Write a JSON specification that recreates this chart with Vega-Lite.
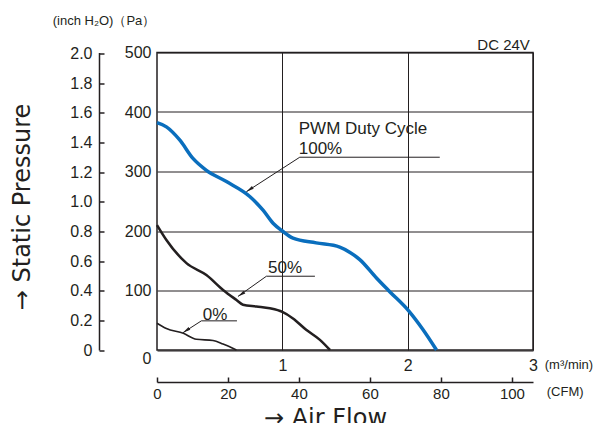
{
  "$schema": "https://vega.github.io/schema/vega-lite/v6.json",
  "width": 376,
  "height": 297.5,
  "autosize": "none",
  "padding": {"left": 157, "top": 52.5, "right": 67, "bottom": 73},
  "config": {
    "font": "Liberation Sans",
    "view": {"stroke": "#231f20", "strokeWidth": 1.5},
    "axis": {"labelColor": "#231f20", "titleColor": "#231f20", "labelFont": "Liberation Sans", "titleFont": "DejaVu Sans"}
  },
  "datasets": {
    "curves": [
      {"series": "100%", "flow": 0, "pa": 382},
      {"series": "100%", "flow": 0.075, "pa": 375},
      {"series": "100%", "flow": 0.181, "pa": 353},
      {"series": "100%", "flow": 0.287, "pa": 322},
      {"series": "100%", "flow": 0.394, "pa": 302},
      {"series": "100%", "flow": 0.554, "pa": 283},
      {"series": "100%", "flow": 0.74, "pa": 258},
      {"series": "100%", "flow": 0.846, "pa": 235},
      {"series": "100%", "flow": 0.926, "pa": 213},
      {"series": "100%", "flow": 1.0, "pa": 200},
      {"series": "100%", "flow": 1.085, "pa": 188},
      {"series": "100%", "flow": 1.27, "pa": 180},
      {"series": "100%", "flow": 1.458, "pa": 173},
      {"series": "100%", "flow": 1.54, "pa": 164},
      {"series": "100%", "flow": 1.618, "pa": 152},
      {"series": "100%", "flow": 1.751, "pa": 121},
      {"series": "100%", "flow": 1.857, "pa": 98},
      {"series": "100%", "flow": 2.003, "pa": 67},
      {"series": "100%", "flow": 2.123, "pa": 34},
      {"series": "100%", "flow": 2.23, "pa": 0},
      {"series": "50%", "flow": 0, "pa": 210},
      {"series": "50%", "flow": 0.075, "pa": 185},
      {"series": "50%", "flow": 0.235, "pa": 146},
      {"series": "50%", "flow": 0.394, "pa": 126},
      {"series": "50%", "flow": 0.527, "pa": 101},
      {"series": "50%", "flow": 0.634, "pa": 84},
      {"series": "50%", "flow": 0.686, "pa": 76},
      {"series": "50%", "flow": 0.793, "pa": 73},
      {"series": "50%", "flow": 0.9, "pa": 70},
      {"series": "50%", "flow": 1.0, "pa": 64},
      {"series": "50%", "flow": 1.085, "pa": 53},
      {"series": "50%", "flow": 1.19, "pa": 34},
      {"series": "50%", "flow": 1.3, "pa": 17},
      {"series": "50%", "flow": 1.38, "pa": 0},
      {"series": "0%", "flow": 0, "pa": 45},
      {"series": "0%", "flow": 0.075, "pa": 36},
      {"series": "0%", "flow": 0.21, "pa": 28},
      {"series": "0%", "flow": 0.314, "pa": 18},
      {"series": "0%", "flow": 0.447, "pa": 16},
      {"series": "0%", "flow": 0.527, "pa": 10},
      {"series": "0%", "flow": 0.634, "pa": 0}
    ],
    "leaders": [
      {"ann": "100%", "ord": 0, "flow": 0.713, "pa": 266},
      {"ann": "100%", "ord": 1, "flow": 1.139, "pa": 324},
      {"ann": "100%", "ord": 2, "flow": 2.256, "pa": 324},
      {"ann": "50%", "ord": 0, "flow": 0.646, "pa": 90},
      {"ann": "50%", "ord": 1, "flow": 0.873, "pa": 124},
      {"ann": "50%", "ord": 2, "flow": 1.26, "pa": 124},
      {"ann": "0%", "ord": 0, "flow": 0.207, "pa": 29},
      {"ann": "0%", "ord": 1, "flow": 0.354, "pa": 49},
      {"ann": "0%", "ord": 2, "flow": 0.638, "pa": 49}
    ],
    "tips": [
      {"ann": "100%", "flow": 0.713, "pa": 266},
      {"ann": "50%", "flow": 0.646, "pa": 90},
      {"ann": "0%", "flow": 0.207, "pa": 29}
    ],
    "annText": [
      {"label": "PWM Duty Cycle", "flow": 1.131, "pa": 362.5},
      {"label": "100%", "flow": 1.131, "pa": 329.4},
      {"label": "50%", "flow": 0.886, "pa": 129},
      {"label": "0%", "flow": 0.365, "pa": 50.4}
    ],
    "dcText": [
      {"label": "DC 24V", "flow": 2.975, "pa": 504}
    ],
    "unitText": [
      {"label": "(m³/min)", "flow": 3.094, "pa": -25.2},
      {"label": "(CFM)", "flow": 3.11, "pa": -70.6},
      {"label": "(inch H₂O)（Pa）", "flow": -0.832, "pa": 553.4}
    ],
    "dummy": [
      {"cfm": 0, "inch": 0}
    ]
  },
  "layer": [
    {
      "encoding": {
        "x": {
          "field": "flow", "type": "quantitative",
          "scale": {"domain": [0, 3], "nice": false, "zero": false},
          "axis": {"orient": "bottom", "values": [1, 2, 3], "grid": true, "gridColor": "#231f20", "gridWidth": 1, "gridOpacity": 1, "ticks": false, "domain": false, "labelPadding": 7, "labelFontSize": 16, "labelFlush": false, "title": null}
        },
        "y": {
          "field": "pa", "type": "quantitative",
          "scale": {"domain": [0, 500], "nice": false, "zero": false},
          "axis": {"orient": "left", "values": [0, 100, 200, 300, 400, 500], "grid": true, "gridColor": "#231f20", "gridWidth": 1, "gridOpacity": 1, "ticks": false, "domain": false, "labelPadding": 6, "labelFontSize": 16, "labelBaseline": {"condition": {"test": "datum.value == 0", "value": "top"}, "value": "middle"}, "title": null}
        }
      },
      "layer": [
        {
          "data": {"name": "curves"},
          "mark": {"type": "line", "interpolate": "monotone"},
          "encoding": {
            "color": {"field": "series", "type": "nominal", "scale": {"domain": ["100%", "50%", "0%"], "range": ["#0a6ebd", "#231f20", "#231f20"]}, "legend": null},
            "strokeWidth": {"field": "series", "type": "ordinal", "scale": {"domain": ["100%", "50%", "0%"], "range": [3.5, 1.6, 1.6]}, "legend": null}
          }
        },
        {
          "data": {"name": "leaders"},
          "mark": {"type": "line", "color": "#231f20", "strokeWidth": 1},
          "encoding": {
            "detail": {"field": "ann", "type": "nominal"},
            "order": {"field": "ord", "type": "quantitative"}
          }
        },
        {
          "data": {"name": "tips"},
          "mark": {"type": "point", "shape": "M0,0L0.45,2.2L-0.45,2.2Z", "filled": true, "color": "#231f20", "opacity": 1, "size": 50, "angle": 236, "strokeWidth": 0},
          "encoding": {}
        },
        {
          "data": {"name": "annText"},
          "mark": {"type": "text", "align": "left", "baseline": "alphabetic", "fontSize": 17, "color": "#231f20"},
          "encoding": {"text": {"field": "label", "type": "nominal"}}
        },
        {
          "data": {"name": "dcText"},
          "mark": {"type": "text", "align": "right", "baseline": "alphabetic", "fontSize": 15, "color": "#231f20"},
          "encoding": {"text": {"field": "label", "type": "nominal"}}
        },
        {
          "data": {"name": "unitText"},
          "mark": {"type": "text", "align": "left", "baseline": "middle", "fontSize": 13, "color": "#231f20"},
          "encoding": {"text": {"field": "label", "type": "nominal"}}
        }
      ]
    },
    {
      "data": {"name": "dummy"},
      "mark": {"type": "point", "opacity": 0},
      "encoding": {
        "x": {
          "field": "cfm", "type": "quantitative",
          "scale": {"domain": [0, 105.94], "nice": false, "zero": false},
          "axis": {"orient": "bottom", "offset": 32, "values": [0, 20, 40, 60, 80, 100], "grid": false, "tickSize": -5, "tickColor": "#231f20", "tickWidth": 1.5, "domainColor": "#231f20", "domainWidth": 1.5, "labelPadding": 9, "labelFontSize": 15, "labelFlush": false, "title": "→  Air Flow", "titleFontSize": 24, "titleFontWeight": "normal", "titleX": 168, "titleY": 43.5, "titleAlign": "center", "titleBaseline": "alphabetic"}
        },
        "y": {
          "field": "inch", "type": "quantitative",
          "scale": {"domain": [0, 2.0074], "nice": false, "zero": false},
          "axis": {"orient": "left", "offset": 58, "values": [0, 0.2, 0.4, 0.6, 0.8, 1, 1.2, 1.4, 1.6, 1.8, 2], "grid": false, "tickSize": -5, "tickColor": "#231f20", "tickWidth": 1.5, "domainColor": "#231f20", "domainWidth": 1.5, "labelPadding": 12, "labelFontSize": 16, "labelExpr": "datum.value == 0 ? '0' : format(datum.value, '.1f')", "title": "→ Static Pressure", "titleFontSize": 24, "titleFontWeight": "normal", "titleAngle": -90, "titleX": -77, "titleY": 154, "titleAlign": "center", "titleBaseline": "middle"}
        }
      }
    }
  ],
  "resolve": {"scale": {"x": "independent", "y": "independent"}, "axis": {"x": "independent", "y": "independent"}}
}
